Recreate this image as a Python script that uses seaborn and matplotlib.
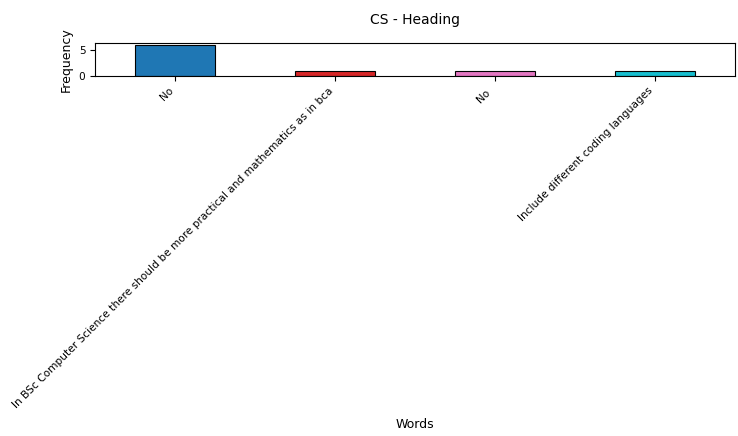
import pandas as pd
import matplotlib
matplotlib.use("Agg")
import matplotlib.pyplot as plt
import seaborn as sns

# Data
words = [
    "No",
    "In BSc Computer Science there should be more practical and mathematics as in bca",
    "No ",
    "Include different coding languages",
]
freqs = [6, 1, 1, 1]
bar_colors = ["#1f77b4", "#d62728", "#e377c2", "#17becf"]

df = pd.DataFrame({"word": words, "freq": freqs})

fig, ax = plt.subplots(figsize=(7.38, 4.36), dpi=100)
sns.barplot(
    data=df, x="word", y="freq", hue="word", order=words,
    palette=dict(zip(words, bar_colors)), legend=False,
    width=0.5, edgecolor="black", linewidth=0.8, saturation=1, ax=ax,
)
ax.set_title("CS - Heading", fontsize=10, pad=14)
ax.set_xlabel("Words", fontsize=9)
ax.set_ylabel("Frequency", fontsize=9)
ax.set_yticks([0, 5])
ax.tick_params(axis="both", labelsize=7.6)
plt.setp(ax.get_xticklabels(), rotation=45, ha="right")
ax.xaxis.labelpad = 6

fig.subplots_adjust(left=0.129, right=0.996, top=0.901, bottom=0.826)
fig.savefig("out.png", dpi=100)
plt.close(fig)
